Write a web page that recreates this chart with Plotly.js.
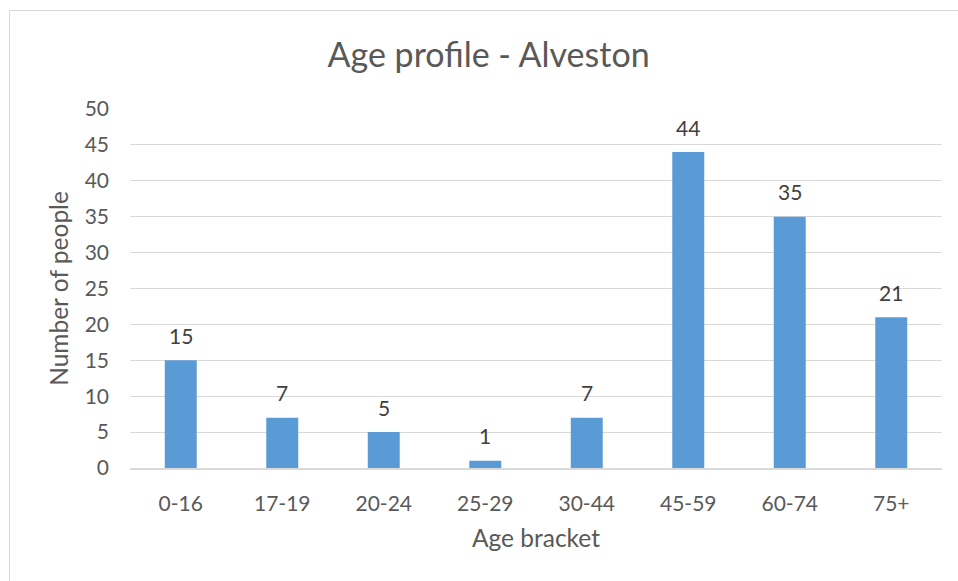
<!DOCTYPE html>
<html>
<head>
<meta charset="utf-8">
<script src="https://cdn.plot.ly/plotly-3.0.1.min.js"></script>
<style>
html,body{margin:0;padding:0;background:#fff;}
#wrap{position:relative;width:958px;height:581px;overflow:hidden;}
#chart{width:958px;height:581px;}
#frame{position:absolute;left:9px;top:10px;width:960px;height:580px;border:1px solid #d9d9d9;pointer-events:none;box-sizing:border-box;}
</style>
</head>
<body>
<div id="wrap"><div id="chart"></div><div id="frame"></div></div>
<script>
const categories = ["0-16","17-19","20-24","25-29","30-44","45-59","60-74","75+"];
const counts = [15, 7, 5, 1, 7, 44, 35, 21];
const yTicks = [0,5,10,15,20,25,30,35,40,45,50];

const fontFam = "Lato, 'Open Sans', sans-serif";
const grey = "#595959";

const labels = categories.map((c, i) => ({
  x: c, y: counts[i], text: String(counts[i]),
  showarrow: false, yanchor: "middle", yshift: 25,
  font: {family: fontFam, size: 21, color: "#404040"}
}));

Plotly.newPlot("chart", [{
  type: "bar",
  x: categories,
  y: counts,
  marker: {color: "#5B9BD5"},
  hoverinfo: "x+y"
}], {
  width: 958, height: 581,
  margin: {l: 130, r: 16, t: 109, b: 113},
  paper_bgcolor: "#ffffff",
  plot_bgcolor: "#ffffff",
  bargap: 0.685,
  showlegend: false,
  annotations: labels,
  title: {text: "Age profile - Alveston", x: 0.51, xanchor: "center", y: 0.905, yanchor: "middle",
          font: {family: fontFam, size: 34, color: grey}},
  xaxis: {
    type: "category",
    showgrid: false,
    showline: true, linecolor: "#d9d9d9", linewidth: 1.5,
    ticks: "", ticklabelstandoff: 16,
    tickfont: {family: fontFam, size: 21, color: grey},
    title: {text: "Age bracket", standoff: 16, font: {family: fontFam, size: 24.5, color: grey}}
  },
  yaxis: {
    range: [0, 50],
    tickvals: yTicks,
    showgrid: true, gridcolor: "#d9d9d9", gridwidth: 1,
    zeroline: false, showline: false,
    ticks: "", ticklabelstandoff: 20,
    tickfont: {family: fontFam, size: 21, color: grey},
    title: {text: "Number of people", standoff: 9, font: {family: fontFam, size: 24.5, color: grey}}
  },
  font: {family: fontFam, color: grey}
}, {displayModeBar: false, staticPlot: true});
</script>
</body>
</html>
